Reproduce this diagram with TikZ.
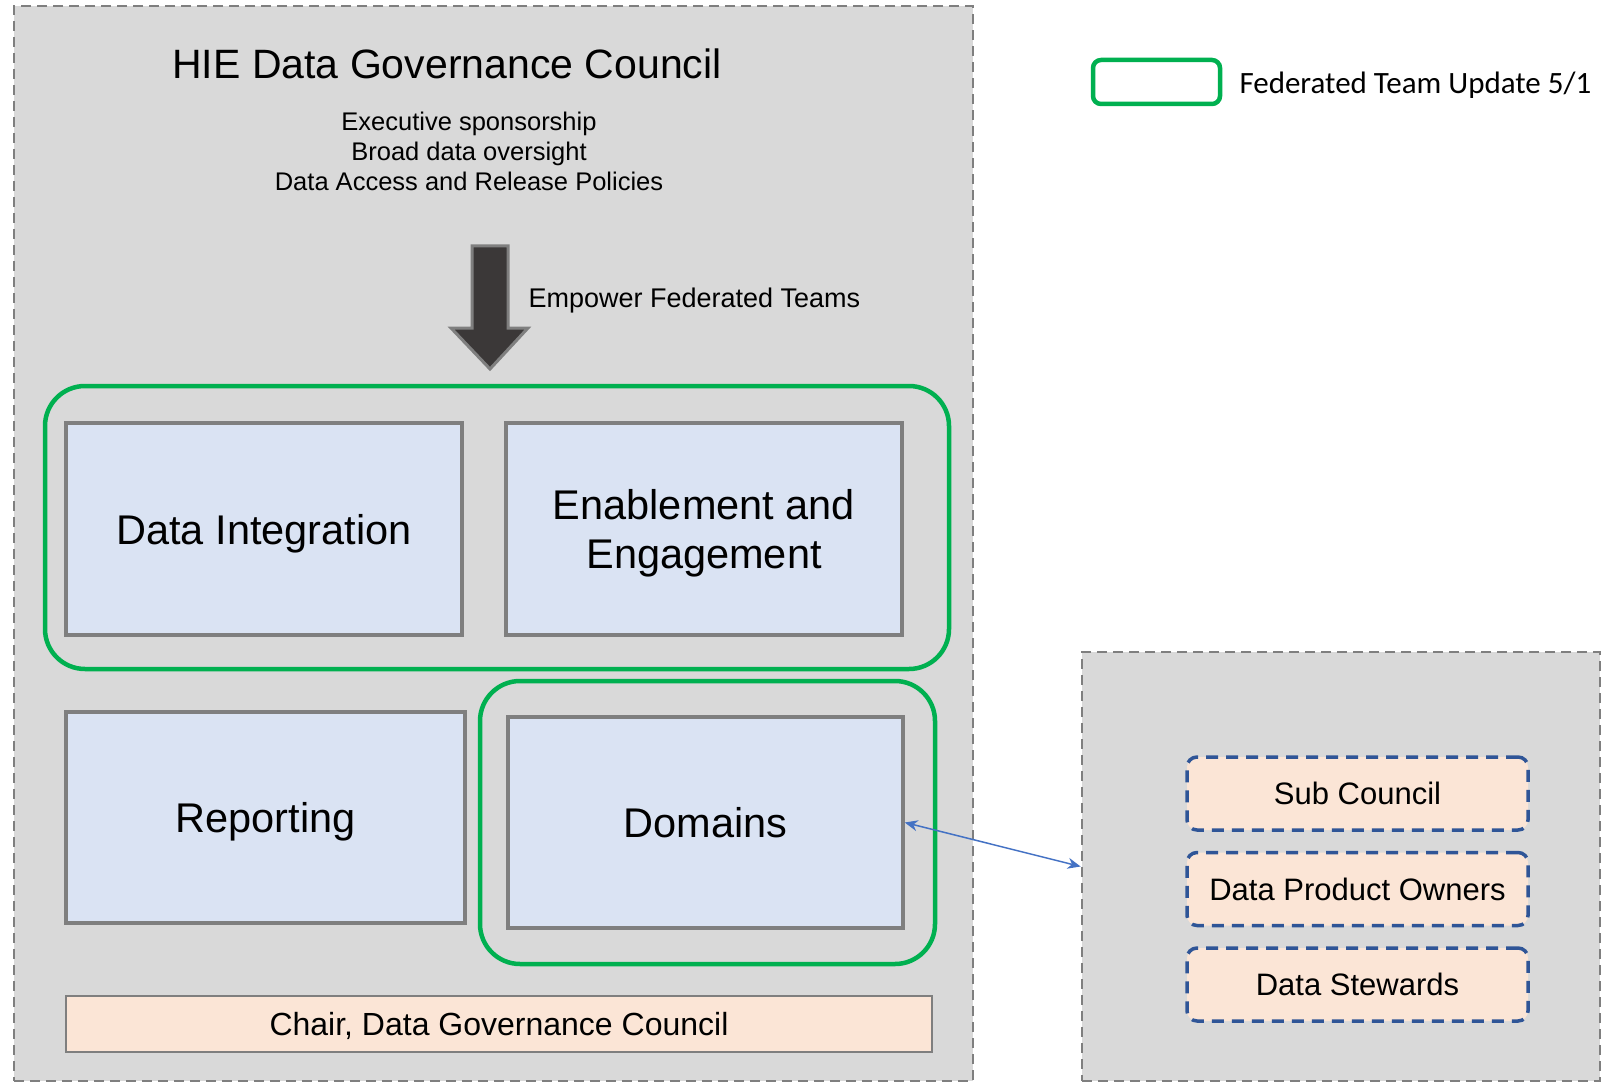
\documentclass[tikz,border=0pt]{standalone}
\usepackage{fontspec}
\setmainfont{Liberation Sans}
\newfontfamily\keyfont{Carlito}
\usetikzlibrary{shapes.geometric, arrows.meta}
\definecolor{panelgray}{HTML}{D9D9D9}
\definecolor{dashgray}{HTML}{7F7F7F}
\definecolor{boxgray}{HTML}{7F7F7F}
\definecolor{teamblue}{HTML}{DAE3F3}
\definecolor{fedgreen}{HTML}{00B050}
\definecolor{roleblue}{HTML}{2F5597}
\definecolor{rolepeach}{HTML}{FBE5D6}
\definecolor{pushdark}{HTML}{3B3838}
\definecolor{linkblue}{HTML}{4472C4}
\tikzstyle{panel} = [rectangle, draw=dashgray, line width=2.8pt, dash pattern=on 10pt off 6pt, fill=panelgray]
\tikzstyle{team} = [rectangle, minimum width=396pt, minimum height=212pt, text centered, align=center, text depth=0pt, draw=boxgray, line width=3.5pt, fill=teamblue, font=\fontsize{41.5}{49}\selectfont]
\tikzstyle{fed} = [rectangle, rounded corners=40pt, draw=fedgreen, line width=4.5pt]
\tikzstyle{role} = [rectangle, rounded corners=10pt, minimum width=341pt, minimum height=73pt, text centered, draw=roleblue, line width=3.5pt, dash pattern=on 12pt off 8pt, fill=rolepeach, font=\fontsize{31}{37}\selectfont]
\tikzstyle{arrow} = [line width=1.5pt, linkblue, {Stealth[length=13pt, width=11pt]}-{Stealth[length=13pt, width=11pt]}]

\begin{document}
\begin{tikzpicture}[x=1pt, y=-1pt, node distance=95.5pt]

    \useasboundingbox (0,0) rectangle (1608,1083);

    \node (council) [panel, minimum width=959pt, minimum height=1075pt] at (493.5,543.5) {};
    \node (side) [panel, minimum width=518pt, minimum height=429pt] at (1341,866.5) {};

    \node (title) [font=\fontsize{41}{49}\selectfont] at (447,64) {HIE Data Governance Council};
    \node (remit) [align=center, font=\fontsize{25.5}{30}\selectfont] at (469,151) {Executive sponsorship\\Broad data oversight\\Data Access and Release Policies};

    \draw [fill=pushdark, draw=dashgray, line width=3pt] (472,246) -- (508,246) -- (508,328) -- (528,328) -- (490,369) -- (451,328) -- (472,328) -- cycle;
    \node (empower) [anchor=west, text depth=0pt, font=\fontsize{27}{32}\selectfont] at (525,298) {Empower Federated Teams};

    \node (team1) [fed, minimum width=904pt, minimum height=283pt] at (497,527.5) {};
    \node (team2) [fed, minimum width=455pt, minimum height=283pt] at (707.5,822.5) {};

    \node (integ) [team] at (264,529) {Data Integration};
    \node (enable) [team] at (704,529) {Enablement and\\Engagement};
    \node (report) [team, minimum width=399pt, minimum height=211pt] at (265.5,817.5) {Reporting};
    \node (domains) [team, minimum width=395pt, minimum height=211pt] at (705.5,822.5) {Domains};
    \node (chair) [rectangle, minimum width=866pt, minimum height=56pt, text depth=0pt, draw=boxgray, line width=2.5pt, fill=rolepeach, font=\fontsize{32}{38}\selectfont] at (499,1024) {Chair, Data Governance Council};

    \node (subc) [role] at (1357.5,793.5) {Sub Council};
    \node (owners) [role, below of=subc] {Data Product Owners};
    \node (stewards) [role, below of=owners] {Data Stewards};

    \draw [arrow] (domains.east) -- (side.west);

    \node (key) [fed, rounded corners=8pt, minimum width=127pt, minimum height=44pt] at (1156.5,82) {};
    \node (keytext) [anchor=west, font=\keyfont\fontsize{31}{37}\selectfont] at (1236,85) {Federated Team Update 5/1};

\end{tikzpicture}
\end{document}
